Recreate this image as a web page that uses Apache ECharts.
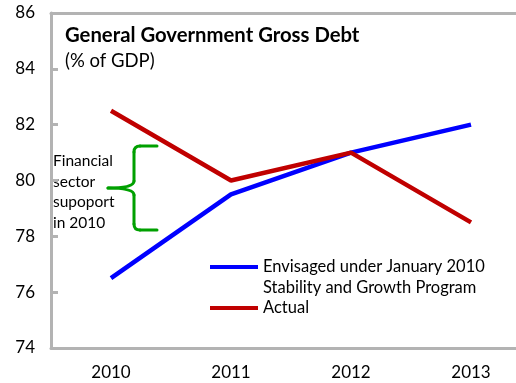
<!DOCTYPE html>
<html><head><meta charset="utf-8">
<script src="https://cdn.jsdelivr.net/npm/echarts@6/dist/echarts.min.js"></script>
<style>html,body{margin:0;padding:0;background:#fff}#c{width:516px;height:383px}</style>
</head><body><div id="c"></div>
<script>
const categories = ['2010', '2011', '2012', '2013'];
const envisaged = [76.5, 79.5, 81, 82];
const actual = [82.5, 80, 81, 78.5];
const yTicks = [74, 76, 78, 80, 82, 84, 86];
const titleText = 'General Government Gross Debt';
const subtitleText = '(% of GDP)';
const envisagedName = 'Envisaged under January 2010\nStability and Growth Program';
const actualName = 'Actual';
const braceText = 'Financial\nsector\nsupoport\nin 2010';

const FONT = 'Lato';
const GREEN = '#00A000';
const GRAY = '#B3B3B3';
const LH = 20.5;
function seg(x1, y1, x2, y2) {
  return {type: 'line', shape: {x1: x1, y1: y1, x2: x2, y2: y2}, style: {stroke: GREEN, lineWidth: 3, lineCap: 'round'}};
}
function curve(x1, y1, cx, cy, x2, y2) {
  return {type: 'bezierCurve', shape: {x1: x1, y1: y1, cpx1: cx, cpy1: cy, x2: x2, y2: y2}, style: {stroke: GREEN, fill: null, lineWidth: 3, lineCap: 'round'}};
}
const legendBase = {
  orient: 'vertical', left: 210, padding: 0, itemWidth: 48, itemHeight: 4, itemGap: 0,
  icon: 'rect'
};
const chart = echarts.init(document.getElementById('c'), null, {renderer: 'canvas'});
chart.setOption({
  animation: false,
  backgroundColor: '#fff',
  textStyle: {fontFamily: FONT},
  title: {
    text: titleText, subtext: subtitleText, left: 60, top: 20, itemGap: 7,
    textStyle: {fontFamily: FONT, fontWeight: 'bold', fontSize: 20.3, color: '#000'},
    subtextStyle: {fontFamily: FONT, fontSize: 18.5, color: '#000'}
  },
  grid: {left: 51, top: 13, width: 480, height: 335, outerBoundsMode: 'none', containLabel: false, show: false},
  xAxis: [{
    type: 'category', data: categories, boundaryGap: true,
    axisLine: {lineStyle: {color: GRAY, width: 3}},
    axisTick: {show: false},
    axisLabel: {color: '#000', fontSize: 17, margin: 16, fontFamily: FONT}
  }, {
    type: 'category', data: categories, position: 'top', boundaryGap: true,
    axisLine: {show: true, lineStyle: {color: GRAY, width: 3}},
    axisTick: {show: false}, axisLabel: {show: false}
  }],
  yAxis: {
    type: 'value', min: yTicks[0], max: yTicks[yTicks.length - 1], interval: 2,
    axisLine: {show: true, lineStyle: {color: GRAY, width: 3}},
    axisTick: {show: true, inside: true, length: 7, lineStyle: {color: GRAY, width: 3}},
    splitLine: {show: false},
    axisLabel: {color: '#000', fontSize: 17, margin: 16, fontFamily: FONT}
  },
  legend: [
    Object.assign({}, legendBase, {
      top: 267 - 1.5 * LH, data: [envisagedName],
      formatter: function (n) { return ' \n' + n; },
      textStyle: {fontFamily: FONT, fontSize: 16.5, color: '#000', lineHeight: LH}
    }),
    Object.assign({}, legendBase, {
      top: 308 - 0.5 * LH, data: [actualName],
      textStyle: {fontFamily: FONT, fontSize: 16.5, color: '#000', lineHeight: LH}
    })
  ],
  series: [
    {name: envisagedName, type: 'line', data: envisaged, symbol: 'none',
     lineStyle: {color: '#0000FF', width: 4.5}, itemStyle: {color: '#0000FF'}},
    {name: actualName, type: 'line', data: actual, symbol: 'none',
     lineStyle: {color: '#C00000', width: 4.5}, itemStyle: {color: '#C00000'}}
  ],
  graphic: [
    {type: 'text', left: 53, top: 151, style: {text: braceText, fontFamily: FONT, fontSize: 15.5, lineHeight: LH, fill: '#000'}},
    seg(157, 146, 140, 146),
    curve(140, 146, 134, 146, 134, 152),
    seg(134, 152, 134, 181),
    curve(134, 181, 134, 188, 108, 188),
    curve(108, 188, 134, 188, 134, 195),
    seg(134, 195, 134, 224),
    curve(134, 224, 134, 230, 140, 230),
    seg(140, 230, 157, 230)
  ]
});
</script></body></html>
